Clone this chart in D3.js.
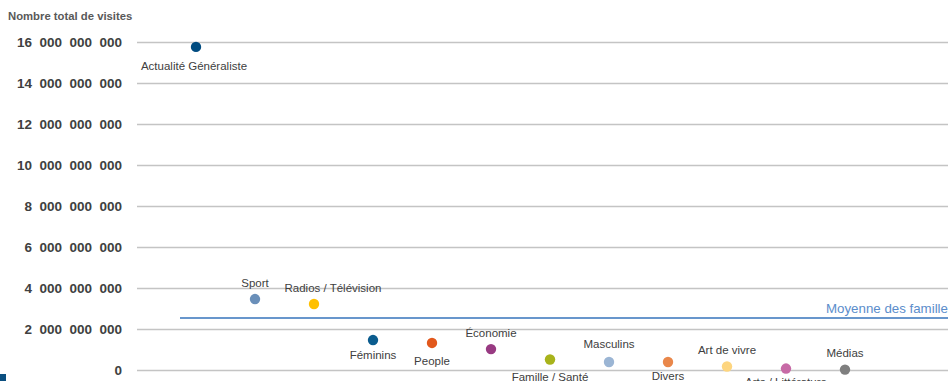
<!DOCTYPE html>
<html>
<head>
<meta charset="utf-8">
<script src="https://cdn.jsdelivr.net/npm/d3@7"></script>
<style>
  html, body { margin: 0; padding: 0; background: #fff; }
  svg { display: block; font-family: "Liberation Sans", Arial, sans-serif; }
</style>
</head>
<body>
<div id="chart"></div>
<script>
// familles de sites
var categories = ["Actualité Généraliste", "Sport", "Radios / Télévision", "Féminins", "People",
    "Économie", "Famille / Santé", "Masculins", "Divers", "Art de vivre", "Arts / Littérature", "Médias"];
// nombre total de visites
var visits = [15.76e9, 3.46e9, 3.22e9, 1.46e9, 1.32e9, 1.02e9, 0.51e9, 0.39e9, 0.39e9, 0.17e9, 0.07e9, 0.02e9];
var colors = ["#004b80", "#6a8fb9", "#ffc000", "#0b5c8e", "#e2581c", "#983a82",
    "#a8b31b", "#9bb5d4", "#e9874a", "#fdd57f", "#c76aa6", "#7f7f7f"];
var average = 2.54e9;
var yTicks = [0, 2e9, 4e9, 6e9, 8e9, 10e9, 12e9, 14e9, 16e9];

var width = 948, height = 381;

var svg = d3.select("#chart").append("svg")
    .attr("width", width)
    .attr("height", height);

var y = d3.scaleLinear().domain([0, 16e9]).range([370, 42]);
var x = d3.scalePoint().domain(categories).range([196, 845]);

// format "16  000  000  000"
function fmt(v) {
    return d3.format(",")(v).replace(/,/g, "\u00a0\u00a0");
}

//Gridlines + tick labels
var yAxis = svg.append("g")
    .attr("transform", "translate(137,0)")
    .call(d3.axisLeft(y).tickValues(yTicks).tickSize(-(width - 137)).tickFormat(fmt).tickPadding(15));
yAxis.select(".domain").remove();
yAxis.selectAll(".tick line")
    .attr("stroke", "#c4c4c4")
    .attr("stroke-width", 1.3);
yAxis.selectAll(".tick text")
    .attr("fill", "#404040")
    .attr("font-size", "13.5px")
    .attr("font-weight", "bold")
    .attr("font-family", "'Liberation Sans', Arial, sans-serif")
    .attr("dy", "0.36em");

svg.append("text")
    .attr("x", 8)
    .attr("y", 20)
    .attr("fill", "#595959")
    .attr("font-size", "11.3px")
    .attr("font-weight", "bold")
    .text("Nombre total de visites");

//Average line
svg.append("line")
    .attr("x1", 180)
    .attr("x2", width)
    .attr("y1", y(average))
    .attr("y2", y(average))
    .attr("stroke", "#6896cc")
    .attr("stroke-width", 2);

svg.append("text")
    .attr("x", 826)
    .attr("y", y(average) - 5)
    .attr("fill", "#5b8dcb")
    .attr("font-size", "13.3px")
    .text("Moyenne des familles");

//Points
svg.selectAll(".dot")
    .data(categories)
    .enter()
    .append("circle")
    .attr("class", "dot")
    .attr("cx", function(d) { return x(d); })
    .attr("cy", function(d, i) { return y(visits[i]); })
    .attr("r", 5.2)
    .attr("fill", function(d, i) { return colors[i]; });

// label offsets from the dot (dx, dy to baseline)
var labelOffset = [[-2, 23], [0, -12], [19, -12], [0, 19], [0, 22], [0, -12],
    [0, 21], [0, -14], [0, 18], [0, -13], [0, 17], [0, -13]];

svg.selectAll(".label")
    .data(categories)
    .enter()
    .append("text")
    .attr("class", "label")
    .attr("x", function(d, i) { return x(d) + labelOffset[i][0]; })
    .attr("y", function(d, i) { return y(visits[i]) + labelOffset[i][1]; })
    .attr("text-anchor", "middle")
    .attr("fill", "#404040")
    .attr("font-size", "11.5px")
    .text(function(d) { return d; });

//Small corner mark
svg.append("rect")
    .attr("x", 0)
    .attr("y", 374)
    .attr("width", 6)
    .attr("height", 7)
    .attr("fill", "#0b4f80");
</script>
</body>
</html>
